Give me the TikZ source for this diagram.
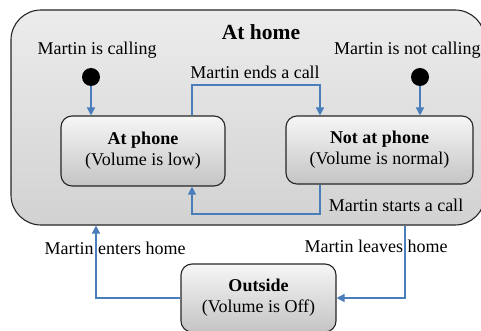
\documentclass[tikz,border=0pt]{standalone}
\usepackage{fontspec}
\setmainfont{Liberation Serif}
\usetikzlibrary{arrows.meta}
\definecolor{flowblue}{RGB}{74,126,187}
\definecolor{hometop}{RGB}{236,236,236}
\definecolor{homebot}{RGB}{210,210,210}
\definecolor{boxtop}{RGB}{246,246,246}
\definecolor{boxbot}{RGB}{196,196,196}
\begin{document}
\begin{tikzpicture}[x=1pt,y=-1pt,
  txt/.style={font=\fontsize{18}{21}\selectfont, inner sep=0pt},
  state/.style={draw=black!85, line width=1.1pt, rounded corners=11pt, top color=boxtop, bottom color=boxbot, align=center, inner sep=0pt, txt},
  flow/.style={draw=flowblue, line width=1.4pt, -{Triangle[length=8pt,width=8pt]}},
  startdot/.style={circle, fill=black, minimum size=18pt, inner sep=0pt}]
\useasboundingbox (0,0) rectangle (481,331);
\node[draw=black!85, line width=1.1pt, rounded corners=30pt, top color=hometop, bottom color=homebot, minimum width=474pt, minimum height=215pt, inner sep=0pt] (home) at (248,117.5) {};
\node[txt, font=\fontsize{21.5}{24}\selectfont\bfseries] (title) at (261,32) {At home};
\node[txt] (lcall) at (97,50) {Martin is calling};
\node[txt, anchor=west] (lnot) at (334,50) {Martin is not calling};
\node[txt] (lends) at (255,72) {Martin ends a call};
\node[txt] (lstarts) at (396,205) {Martin starts a call};
\node[txt] (lenter) at (115,248) {Martin enters home};
\node[txt] (lleave) at (376,246) {Martin leaves home};
\node[startdot] (d1) at (91,77) {};
\node[startdot] (d2) at (420,77) {};
\node[state, minimum width=164pt, minimum height=70pt] (ap) at (143,151) {\textbf{At phone}\\(Volume is low)};
\node[state, minimum width=187pt, minimum height=68pt] (nap) at (379.5,150) {\textbf{Not at phone}\\(Volume is normal)};
\node[state, minimum width=155pt, minimum height=68pt] (out) at (258.5,298) {\textbf{Outside}\\(Volume is Off)};
\coordinate (c1) at (192,85);
\coordinate (c2) at (320,85);
\coordinate (c3) at (320,214);
\coordinate (c4) at (192,214);
\coordinate (c5) at (96,298);
\coordinate (c6) at (405,298);
\draw[flow] (d1) -- (d1 |- ap.north);
\draw[flow] (d2) -- (d2 |- nap.north);
\draw[flow] (c1 |- ap.north) -- (c1) -- (c2) -- (c2 |- nap.north);
\draw[flow] (c3 |- nap.south) -- (c3) -- (c4) -- (c4 |- ap.south);
\draw[flow] (out.west) -- (c5) -- (c5 |- home.south);
\draw[flow] (c6 |- home.south) -- (c6) -- (out.east);
\end{tikzpicture}
\end{document}
